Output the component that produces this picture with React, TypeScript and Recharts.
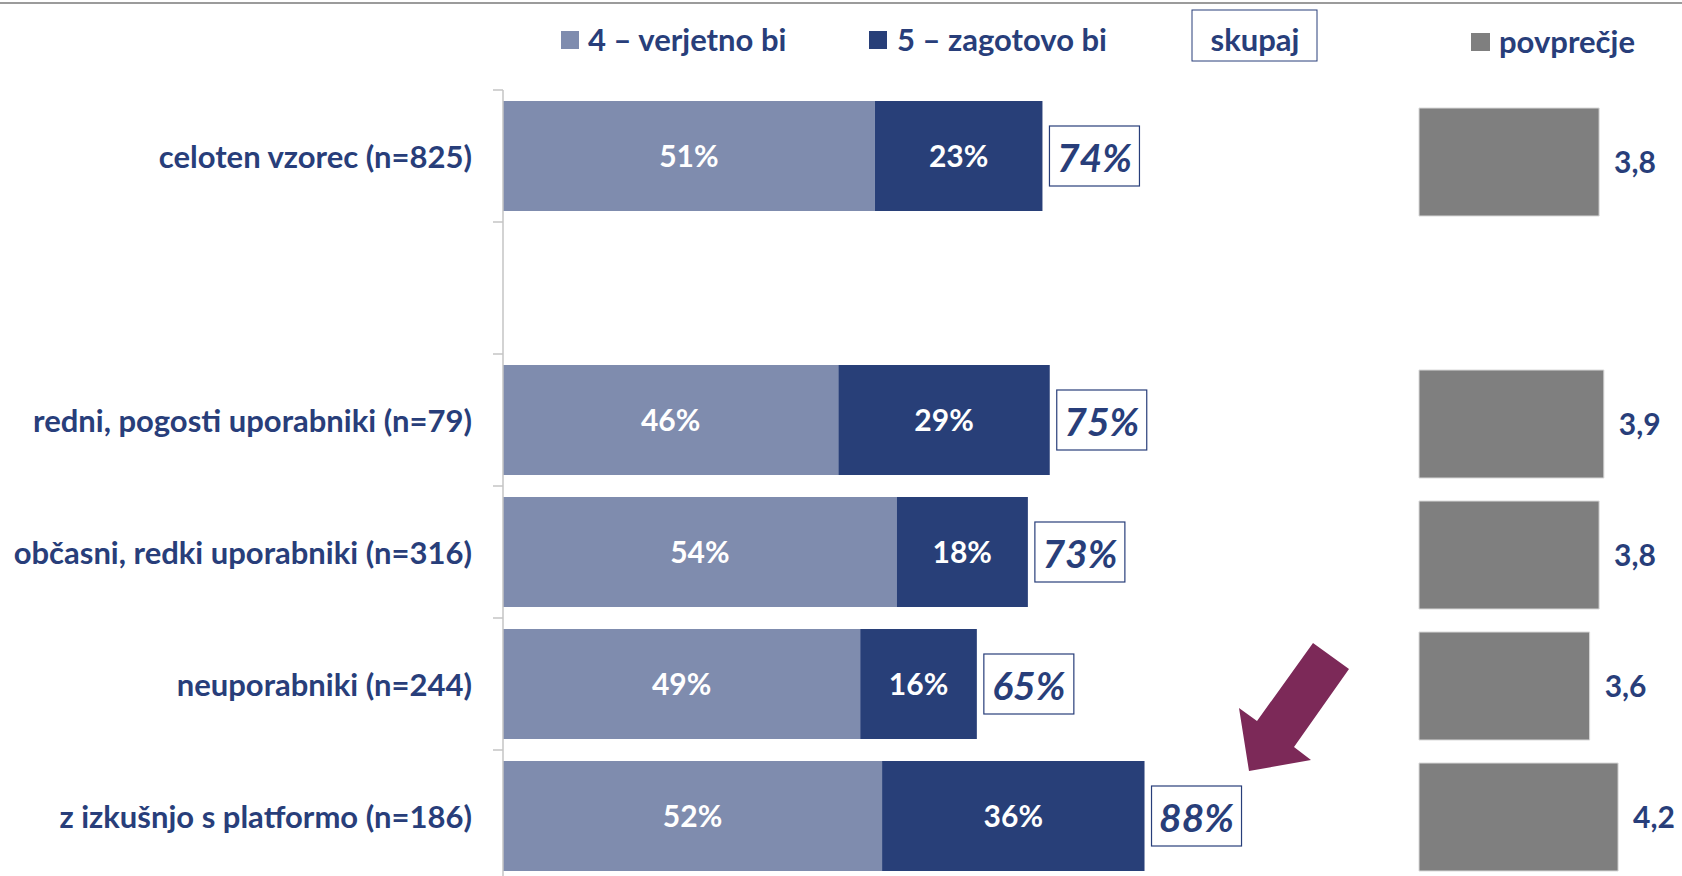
import React from 'react';
import { BarChart, Bar, XAxis, YAxis, LabelList } from 'recharts';

const categories = [
  'celoten vzorec (n=825)',
  '',
  'redni, pogosti uporabniki (n=79)',
  'občasni, redki uporabniki (n=316)',
  'neuporabniki (n=244)',
  'z izkušnjo s platformo (n=186)',
];
const likely = [51, null, 46, 54, 49, 52];
const certainly = [23, null, 29, 18, 16, 36];
const totals = [74, null, 75, 73, 65, 88];
const averages = [3.8, null, 3.9, 3.8, 3.6, 4.2];
const seriesNames = ['4 – verjetno bi', '5 – zagotovo bi', 'skupaj', 'povprečje'];

const data = categories.map((name, i) => ({
  name,
  v4: likely[i],
  v5: certainly[i],
  total: totals[i],
  avg: averages[i],
}));

const FONT = 'Lato, "Open Sans", sans-serif';
const TEXT = '#283E7A';
const LIGHT = '#7F8CAE';
const DARK = '#283F78';
const GRAY = '#7F7F7F';
const AXIS = '#C4C4C4';

const CH = 900;
const TOP = 90;
const BOTTOM = 18;
const BAND = (CH - TOP - BOTTOM) / categories.length;

const pct = (v: any) => (typeof v === 'number' && v > 0 ? `${v}%` : '');
const dec = (v: any) => (typeof v === 'number' && v > 0 ? v.toFixed(1).replace('.', ',') : '');

const CatTick = (props: any) => {
  const { x, y, payload } = props;
  const isLast = payload && payload.value === categories[categories.length - 1];
  return (
    <g>
      <line x1={x - 10} x2={x} y1={y - BAND / 2} y2={y - BAND / 2} stroke={AXIS} strokeWidth={1.5} />
      {isLast ? (
        <line x1={x - 10} x2={x} y1={y + BAND / 2} y2={y + BAND / 2} stroke={AXIS} strokeWidth={1.5} />
      ) : null}
      <text
        x={x - 31}
        y={y}
        textAnchor="end"
        dominantBaseline="central"
        fontFamily={FONT}
        fontWeight={700}
        fontSize={31}
        fill={TEXT}
      >
        {payload ? payload.value : ''}
      </text>
    </g>
  );
};

const TotalBox = (props: any) => {
  const vb = props.viewBox && props.viewBox.width !== undefined ? props.viewBox : props;
  const { x, y, width, height } = vb;
  const value = props.value;
  if (value == null || typeof x !== 'number') return null;
  const bx = x + width + 7;
  const cy = y + height / 2;
  const w = 90;
  const h = 60;
  return (
    <g>
      <rect x={bx} y={cy - h / 2} width={w} height={h} fill="#fff" stroke={TEXT} strokeWidth={1.2} />
      <text
        x={bx + w / 2}
        y={cy + 1}
        textAnchor="middle"
        dominantBaseline="central"
        fontFamily={FONT}
        fontWeight={700}
        fontStyle="italic"
        fontSize={39}
        fill={TEXT}
      >
        {`${value}%`}
      </text>
    </g>
  );
};

const Overlay = () => (
  <svg width={1682} height={876} style={{ position: 'absolute', left: 0, top: 0, pointerEvents: 'none' }}>
    <line x1={0} x2={1682} y1={3} y2={3} stroke="#9B9B9B" strokeWidth={2} />
    <g fontFamily={FONT} fontWeight={700} fontSize={31} fill={TEXT}>
      <rect x={561} y={31} width={18} height={18} fill={LIGHT} />
      <text x={588} y={39} dominantBaseline="central">{seriesNames[0]}</text>
      <rect x={869} y={31} width={18} height={18} fill={DARK} />
      <text x={897} y={39} dominantBaseline="central">{seriesNames[1]}</text>
      <rect x={1192} y={10} width={125} height={51} fill="#fff" stroke={TEXT} strokeWidth={1} />
      <text x={1255} y={39} textAnchor="middle" dominantBaseline="central">{seriesNames[2]}</text>
      <rect x={1471} y={33} width={19} height={18} fill={GRAY} />
      <text x={1499} y={41} dominantBaseline="central">{seriesNames[3]}</text>
    </g>
    <polygon
      points="1249,771 1239,708 1257,721 1313,643 1349,669 1294,747 1311,760"
      fill="#7C2958"
    />
  </svg>
);

export default function App() {
  return (
    <div style={{ position: 'absolute', left: 0, top: 0, width: 1682, height: 876, overflow: 'hidden', background: '#fff' }}>
      <div style={{ position: 'absolute', left: 0, top: 0 }}>
        <BarChart
          width={1682}
          height={CH}
          data={data}
          layout="vertical"
          margin={{ top: 96, right: 26, bottom: 18, left: 1419 }}
        >
          <XAxis type="number" domain={[0, 5]} hide />
          <YAxis type="category" dataKey="name" hide />
          <Bar dataKey="avg" fill={GRAY} stroke="#D9D9D9" strokeWidth={1} barSize={108} isAnimationActive={false}>
            <LabelList
              dataKey="avg"
              position="right"
              offset={15}
              formatter={dec}
              style={{ fontFamily: FONT, fontWeight: 700, fontSize: 30, fill: TEXT }}
            />
          </Bar>
        </BarChart>
      </div>
      <div style={{ position: 'absolute', left: 0, top: 0 }}>
        <BarChart
          width={1300}
          height={CH}
          data={data}
          layout="vertical"
          margin={{ top: TOP, right: 68, bottom: BOTTOM, left: 0 }}
        >
          <XAxis type="number" domain={[0, 100]} hide />
          <YAxis
            type="category"
            dataKey="name"
            width={503}
            interval={0}
            tickSize={0}
            tickMargin={0}
            tickLine={false}
            axisLine={{ stroke: AXIS, strokeWidth: 1.5 }}
            tick={CatTick}
          />
          <Bar dataKey="v4" stackId="a" fill={LIGHT} barSize={110} isAnimationActive={false}>
            <LabelList
              dataKey="v4"
              position="center"
              formatter={pct}
              style={{ fontFamily: FONT, fontWeight: 700, fontSize: 30, fill: '#fff' }}
            />
          </Bar>
          <Bar dataKey="v5" stackId="a" fill={DARK} barSize={110} isAnimationActive={false}>
            <LabelList
              dataKey="v5"
              position="center"
              formatter={pct}
              style={{ fontFamily: FONT, fontWeight: 700, fontSize: 30, fill: '#fff' }}
            />
            <LabelList dataKey="total" content={TotalBox} />
          </Bar>
        </BarChart>
      </div>
      <Overlay />
    </div>
  );
}
